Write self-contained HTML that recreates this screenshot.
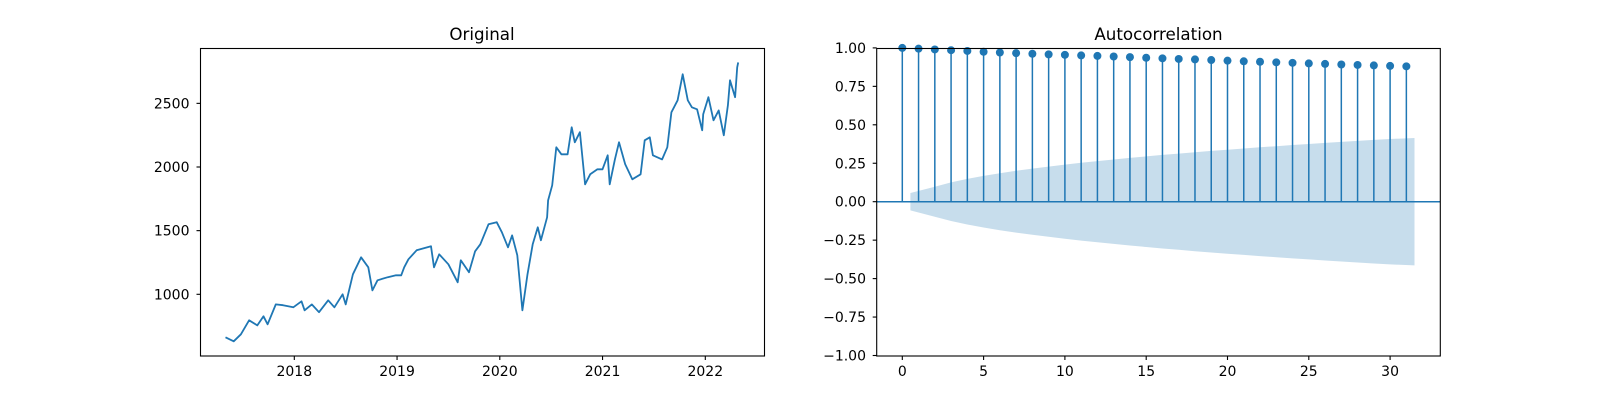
<!DOCTYPE html>
<html><head><meta charset="utf-8"><style>
html,body{margin:0;padding:0;background:#fff;width:1600px;height:400px;overflow:hidden}
svg{display:block;font-family:"DejaVu Sans","Liberation Sans",sans-serif}
</style></head><body>
<svg id="fig" width="1600" height="400" viewBox="0 0 1600 400">
<g id="left"></g>
<g id="right"></g>
</svg>
<script>
// Original series (decimal year, price)
const dates=[2017.33,2017.41,2017.48,2017.56,2017.64,2017.70,2017.74,2017.82,2017.89,2017.99,2018.07,2018.10,2018.17,2018.24,2018.33,2018.39,2018.47,2018.50,2018.57,2018.65,2018.72,2018.76,2018.81,2018.91,2018.99,2019.04,2019.07,2019.11,2019.19,2019.33,2019.36,2019.41,2019.50,2019.59,2019.62,2019.70,2019.76,2019.81,2019.89,2019.97,2020.02,2020.08,2020.12,2020.17,2020.22,2020.27,2020.32,2020.37,2020.40,2020.46,2020.47,2020.51,2020.55,2020.60,2020.66,2020.70,2020.73,2020.78,2020.83,2020.88,2020.95,2021.00,2021.05,2021.07,2021.12,2021.16,2021.22,2021.29,2021.37,2021.41,2021.46,2021.49,2021.58,2021.63,2021.67,2021.73,2021.78,2021.83,2021.87,2021.92,2021.97,2021.98,2022.03,2022.08,2022.13,2022.18,2022.22,2022.24,2022.29,2022.31,2022.32];
const prices=[662,631,686,796,756,827,764,921,914,898,945,874,921,859,953,898,1000,921,1157,1291,1212,1031,1110,1134,1149,1149,1212,1275,1346,1377,1212,1314,1236,1094,1267,1173,1338,1393,1550,1566,1487,1369,1463,1306,874,1157,1393,1526,1424,1605,1738,1856,2155,2100,2100,2312,2194,2273,1864,1943,1982,1982,2092,1864,2060,2194,2021,1903,1943,2210,2233,2092,2060,2155,2430,2524,2728,2524,2469,2453,2288,2414,2548,2367,2445,2249,2485,2681,2548,2783,2822];
const xTicksL=[2018,2019,2020,2021,2022];
const yTicksL=[1000,1500,2000,2500];
// ACF
const lags=[0,1,2,3,4,5,6,7,8,9,10,11,12,13,14,15,16,17,18,19,20,21,22,23,24,25,26,27,28,29,30,31];
const acf=[1.0,0.995,0.99,0.985,0.98,0.975,0.97,0.966,0.962,0.958,0.955,0.951,0.948,0.944,0.94,0.936,0.932,0.928,0.925,0.921,0.917,0.913,0.91,0.906,0.903,0.899,0.896,0.892,0.889,0.886,0.883,0.88];
const nObs=1200;
const xTicksR=[0,5,10,15,20,25,30];
const yTicksR=[-1.00,-0.75,-0.50,-0.25,0.00,0.25,0.50,0.75,1.00];

const NS='http://www.w3.org/2000/svg';
function mk(parent,tag,attrs,name){const e=document.createElementNS(NS,tag);for(const k in attrs)e.setAttribute(k,attrs[k]);


parent.appendChild(e);return e;}
const C='#1f77b4';

// Left
const L=document.getElementById('left');
const lx=d=>294.3+(d-2018)*102.75, ly=v=>294.3-(v-1000)*0.1273;
mk(L,'text',{x:482,y:40,'font-size':16.7,'text-anchor':'middle'},'left-title').textContent='Original';
let pts=dates.map((d,i)=>lx(d).toFixed(1)+','+ly(prices[i]).toFixed(1)).join(' ');
mk(L,'polyline',{points:pts,fill:'none',stroke:C,'stroke-width':1.8,'stroke-linejoin':'round'},'price-line');
mk(L,'rect',{x:200.5,y:48.5,width:564,height:307.5,fill:'none',stroke:'#000','stroke-width':1.1},'left-axes-frame');
xTicksL.forEach(t=>{const x=lx(t);mk(L,'line',{x1:x,x2:x,y1:356,y2:360,stroke:'#000','stroke-width':1.1},'x-tick');
mk(L,'text',{x:x,y:376,'font-size':14,'text-anchor':'middle'},'x-tick-label').textContent=t;});
yTicksL.forEach(t=>{const y=ly(t);mk(L,'line',{x1:196.5,x2:200.5,y1:y,y2:y,stroke:'#000','stroke-width':1.1},'y-tick');
mk(L,'text',{x:189.5,y:y+5,'font-size':14,'text-anchor':'end'},'y-tick-label').textContent=t;});

// Right
const R=document.getElementById('right');
const rx=l=>902.3+l*16.26, ry=v=>201.7-v*153.8;
mk(R,'text',{x:1158.5,y:40,'font-size':16.7,'text-anchor':'middle'},'right-title').textContent='Autocorrelation';
const band=[];let s=0;
for(let k=1;k<lags.length;k++){band.push(1.96*Math.sqrt((1+2*s)/nObs));s+=acf[k]*acf[k];}
const bx=lags.slice(1).map((l,i,a)=>i===0?l-0.5:(i===a.length-1?l+0.5:l));
let up=bx.map((l,i)=>rx(l).toFixed(1)+','+ry(band[i]).toFixed(1));
let dn=bx.map((l,i)=>rx(l).toFixed(1)+','+ry(-band[i]).toFixed(1)).reverse();
mk(R,'polygon',{points:up.concat(dn).join(' '),fill:C,'fill-opacity':0.25},'confidence-band');
mk(R,'line',{x1:876.7,x2:1440.3,y1:ry(0),y2:ry(0),stroke:C,'stroke-width':1.5},'zero-line');
lags.forEach((l,i)=>{mk(R,'line',{x1:rx(l),x2:rx(l),y1:ry(0),y2:ry(acf[i]),stroke:C,'stroke-width':1.5},'acf-stem');
mk(R,'circle',{cx:rx(l),cy:ry(acf[i]),r:4,fill:C},'acf-marker');});
mk(R,'rect',{x:876.7,y:48.5,width:563.6,height:307.5,fill:'none',stroke:'#000','stroke-width':1.1},'right-axes-frame');
xTicksR.forEach(t=>{const x=rx(t);mk(R,'line',{x1:x,x2:x,y1:356,y2:360,stroke:'#000','stroke-width':1.1},'x-tick');
mk(R,'text',{x:x,y:376,'font-size':14,'text-anchor':'middle'},'x-tick-label').textContent=t;});
yTicksR.forEach(t=>{const y=ry(t);mk(R,'line',{x1:872.7,x2:876.7,y1:y,y2:y,stroke:'#000','stroke-width':1.1},'y-tick');
mk(R,'text',{x:866,y:y+5,'font-size':14,'text-anchor':'end'},'y-tick-label').textContent=t.toFixed(2).replace('-','\u2212');});
</script>
</body></html>
